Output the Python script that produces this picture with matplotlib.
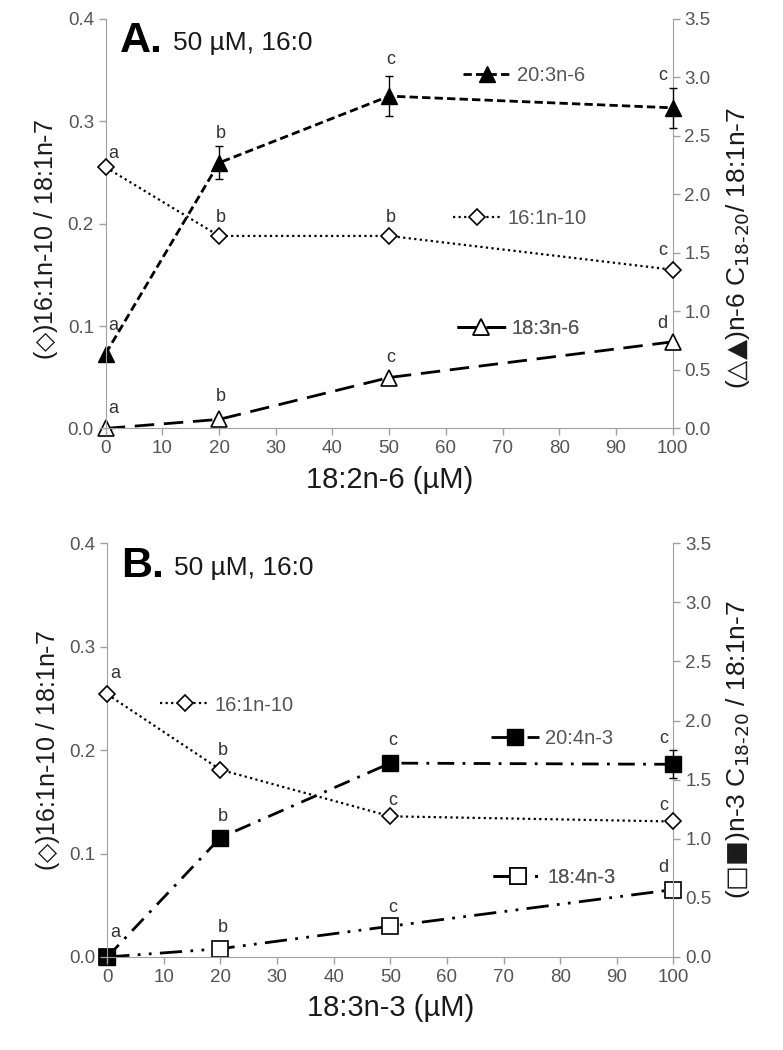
import matplotlib
matplotlib.use('Agg')
import matplotlib.pyplot as plt

plt.rcParams['font.family'] = ['Liberation Sans', 'DejaVu Sans']

# concentrations (uM)
conc = [0, 20, 50, 100]

# Panel A: 18:2n-6 supplementation
a_161 = [0.255, 0.188, 0.188, 0.155]        # left axis
a_203 = [0.64, 2.27, 2.84, 2.74]            # right axis
a_203_err = [0.0, 0.14, 0.17, 0.17]
a_183 = [0.0, 0.077, 0.435, 0.74]           # right axis
a_161_let = ['a', 'b', 'b', 'c']
a_203_let = ['a', 'b', 'c', 'c']
a_183_let = ['a', 'b', 'c', 'd']

# Panel B: 18:3n-3 supplementation
b_161 = [0.254, 0.181, 0.136, 0.131]
b_204 = [0.0, 1.01, 1.64, 1.63]
b_204_err = [0.0, 0.0, 0.05, 0.12]
b_184 = [0.0, 0.07, 0.26, 0.57]
b_161_let = ['a', 'b', 'c', 'c']
b_204_let = ['a', 'b', 'c', 'c']
b_184_let = ['', 'b', 'c', 'd']

GRAY = '#a0a0a0'
TXT = '#555555'


def letters(ax, xs, ys, labs, dy):
    for x, y, l, d in zip(xs, ys, labs, dy):
        dx = 8 if x == 0 else (-10 if x == 100 else 2)
        ax.annotate(l, (x, y), xytext=(dx, d), textcoords='offset pixels',
                    ha='center', va='center', fontsize=13, color='#333333',
                    annotation_clip=False)


def style(ax, ax2, xlabel, rlabel, ly=0.5, ry=0.5):
    ax.set_xlim(0, 100)
    ax.set_ylim(0, 0.4)
    ax2.set_ylim(0, 3.5)
    ax.set_xticks(range(0, 101, 10))
    ax.set_yticks([0, 0.1, 0.2, 0.3, 0.4])
    ax.set_yticklabels(['0.0', '0.1', '0.2', '0.3', '0.4'])
    ax2.set_yticks([0, 0.5, 1, 1.5, 2, 2.5, 3, 3.5])
    ax2.set_yticklabels(['0.0', '0.5', '1.0', '1.5', '2.0', '2.5', '3.0', '3.5'])
    for a in (ax, ax2):
        for s in a.spines.values():
            s.set_color(GRAY)
        a.spines['top'].set_visible(False)
        a.tick_params(colors=GRAY, labelcolor=TXT, labelsize=13.5, length=5, width=1)
    ax.spines['right'].set_visible(False)
    ax2.spines['left'].set_visible(False)
    ax2.spines['bottom'].set_visible(False)
    ax.set_xlabel(xlabel, fontsize=21, color='#1a1a1a', labelpad=6)
    ax.set_ylabel('($\\mathrm{\u25C7}$)16:1n-10 / 18:1n-7', fontsize=18, color='#1a1a1a')
    ax2.set_ylabel(rlabel, fontsize=19, color='#1a1a1a', rotation=90)
    ax.yaxis.set_label_coords(-0.08, ly)
    ax2.yaxis.set_label_coords(1.09, ry)
    ax.set_zorder(ax2.get_zorder() + 1)
    ax.patch.set_visible(False)


def tag(ax, handle, label, x, y):
    leg = ax.legend([handle], [label], loc='center left', bbox_to_anchor=(x, y),
                    frameon=False, handlelength=2.4, handletextpad=0.3, borderpad=0,
                    borderaxespad=0, numpoints=1, prop={'size': 14.5})
    for t in leg.get_texts():
        t.set_color(TXT)
    ax.add_artist(leg)


fig = plt.figure(figsize=(7.83, 10.5), dpi=100)

# ---------------- Panel A ----------------
axA = fig.add_axes([0.135, 0.592, 0.724, 0.390])
axA2 = axA.twinx()
l203 = axA2.errorbar(conc, a_203, yerr=a_203_err, color='black', lw=2, ls=(0, (3, 1.5)),
                     marker='^', ms=11, mfc='black', mec='black', ecolor='black',
                     elinewidth=1, capsize=3, zorder=3, clip_on=False)
l183, = axA2.plot(conc, a_183, color='black', lw=2, ls=(0, (7, 3.5)), marker='^', ms=11,
                  mfc='white', mec='black', mew=1.2, zorder=3, clip_on=False)
l161, = axA.plot(conc, a_161, color='black', lw=1.6, ls=(0, (1, 1.5)), marker='D', ms=8,
                 mfc='white', mec='black', mew=1.2, zorder=4, clip_on=False)
style(axA, axA2, '18:2n-6 (\u00B5M)',
      '($\\mathrm{\u25B3\u25B2}$)n-6 C$_{18\u201020}$/ 18:1n-7', ly=0.46, ry=0.44)
letters(axA2, conc, a_203, a_203_let, [28, 29, 37, 32])
letters(axA, conc, a_161, a_161_let, [14, 18, 18, 19])
letters(axA2, conc, a_183, a_183_let, [20, 23, 20, 18])
tag(axA, l203.lines[0], '20:3n-6', 0.63, 0.861)
tag(axA, l161, '16:1n-10', 0.612, 0.512)
tag(axA, l183, '18:3n-6', 0.62, 0.244)
axA.text(0.025, 0.945, 'A.', transform=axA.transAxes, fontsize=31, fontweight='bold',
         va='center')
axA.text(0.118, 0.94, '50 \u00B5M, 16:0', transform=axA.transAxes, fontsize=19,
         va='center', color='#1a1a1a')

# ---------------- Panel B ----------------
axB = fig.add_axes([0.137, 0.0886, 0.723, 0.394])
axB2 = axB.twinx()
l204 = axB2.errorbar(conc, b_204, yerr=b_204_err, color='black', lw=2, ls=(0, (6, 3, 1, 3)),
                     marker='s', ms=11, mfc='black', mec='black', ecolor='black',
                     elinewidth=1, capsize=3, zorder=3, clip_on=False)
l184, = axB2.plot(conc, b_184, color='black', lw=2, ls=(0, (8, 3, 1, 3, 1, 3)), marker='s',
                  ms=11, mfc='white', mec='black', mew=1.2, zorder=2, clip_on=False)
b161, = axB.plot(conc, b_161, color='black', lw=1.6, ls=(0, (1, 1.5)), marker='D', ms=8,
                 mfc='white', mec='black', mew=1.2, zorder=4, clip_on=False)
style(axB, axB2, '18:3n-3 (\u00B5M)',
      '($\\mathrm{\u25A1\u25A0}$)n-3 C$_{18\u201020}$ / 18:1n-7')
letters(axB2, conc, b_204, b_204_let, [24, 21, 23, 26])
letters(axB, conc, b_161, b_161_let, [21, 19, 16, 16])
letters(axB2, conc, b_184, b_184_let, [0, 21, 19, 22])
tag(axB, b161, '16:1n-10', 0.094, 0.609)
tag(axB, l204.lines[0], '20:4n-3', 0.677, 0.529)
tag(axB, l184, '18:4n-3', 0.682, 0.193)
axB.text(0.025, 0.945, 'B.', transform=axB.transAxes, fontsize=31, fontweight='bold',
         va='center')
axB.text(0.118, 0.94, '50 \u00B5M, 16:0', transform=axB.transAxes, fontsize=19,
         va='center', color='#1a1a1a')

fig.savefig('out.png', dpi=100)
